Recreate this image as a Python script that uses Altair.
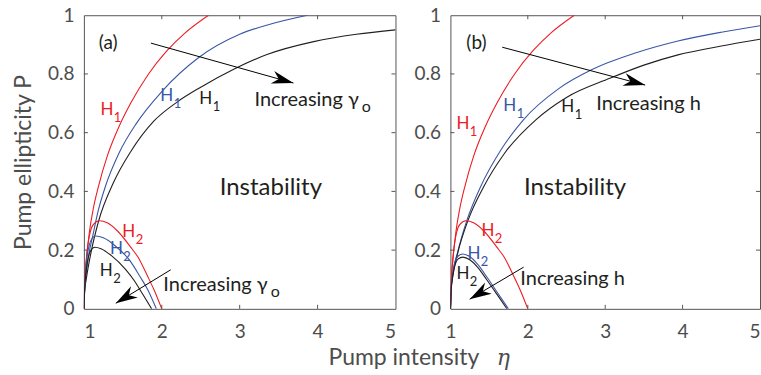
import math
import altair as alt
import pandas as pd

FONT = "Lato"
W1, W2, H = 312, 310, 294
RED, BLUE, BLACK, GREY = "#ed1c24", "#3a57a7", "#231f20", "#4d4d4d"

# ---------------- curve data ----------------
red_H1_eta = [1.0, 1.01, 1.03, 1.07, 1.12, 1.19, 1.3, 1.45, 1.6, 1.83, 2.07, 2.3, 2.6]
red_H1_P = [0.0, 0.09, 0.16, 0.26, 0.34, 0.42, 0.52, 0.62, 0.70, 0.80, 0.88, 0.94, 1.0]
red_H2_eta = [1.0, 1.01, 1.025, 1.05, 1.08, 1.12, 1.2, 1.3, 1.45, 1.6, 1.69, 1.82, 1.9, 2.0]
red_H2_P = [0.0, 0.085, 0.15, 0.215, 0.26, 0.287, 0.30, 0.293, 0.26, 0.21, 0.178, 0.11, 0.065, 0.0]

a_blue_H1_eta = [1.0, 1.01, 1.03, 1.06, 1.115, 1.18, 1.28, 1.45, 1.67, 2.0, 2.47, 3.0, 3.4, 3.87]
a_blue_H1_P = [0.0, 0.07, 0.12, 0.18, 0.25, 0.33, 0.42, 0.53, 0.63, 0.74, 0.855, 0.935, 0.97, 1.0]
a_black_H1_eta = [1.0, 1.01, 1.03, 1.09, 1.19, 1.38, 1.6, 1.9, 2.2, 2.5, 2.93, 3.35, 3.95, 4.5, 5.0]
a_black_H1_P = [0.0, 0.06, 0.1, 0.19, 0.3, 0.43, 0.535, 0.64, 0.705, 0.755, 0.817, 0.866, 0.91, 0.935, 0.95]
a_blue_H2_eta = [1.0, 1.01, 1.025, 1.045, 1.07, 1.1, 1.15, 1.25, 1.4, 1.6, 1.72, 1.82, 1.93]
a_blue_H2_P = [0.0, 0.075, 0.135, 0.185, 0.218, 0.238, 0.248, 0.242, 0.215, 0.161, 0.11, 0.065, 0.0]
a_black_H2_eta = [1.0, 1.01, 1.025, 1.045, 1.07, 1.1, 1.14, 1.22, 1.35, 1.54, 1.65, 1.75, 1.87]
a_black_H2_P = [0.0, 0.065, 0.12, 0.16, 0.188, 0.203, 0.21, 0.205, 0.182, 0.133, 0.095, 0.052, 0.0]

b_blue_H1_eta = [1.0, 1.01, 1.03, 1.09, 1.215, 1.39, 1.65, 1.94, 2.4, 2.83, 3.4, 3.94, 4.5, 5.0]
b_blue_H1_P = [0.0, 0.07, 0.12, 0.19, 0.303, 0.416, 0.54, 0.643, 0.75, 0.815, 0.872, 0.912, 0.942, 0.964]
b_black_H1_eta = [1.0, 1.01, 1.03, 1.09, 1.23, 1.43, 1.7, 2.1, 2.5, 3.06, 3.5, 3.94, 4.5, 5.0]
b_black_H1_P = [0.0, 0.065, 0.11, 0.185, 0.303, 0.416, 0.53, 0.643, 0.72, 0.785, 0.83, 0.865, 0.895, 0.918]
b_blue_H2_eta = [1.0, 1.01, 1.03, 1.06, 1.1, 1.16, 1.25, 1.35, 1.48, 1.6, 1.75]
b_blue_H2_P = [0.0, 0.07, 0.12, 0.16, 0.18, 0.187, 0.178, 0.152, 0.105, 0.058, 0.0]
b_black_H2_eta = [1.0, 1.01, 1.03, 1.06, 1.1, 1.16, 1.25, 1.35, 1.47, 1.6, 1.73]
b_black_H2_P = [0.0, 0.065, 0.11, 0.15, 0.17, 0.176, 0.167, 0.142, 0.099, 0.05, 0.0]

# ---------------- ticks ----------------
x_ticks = [1, 2, 3, 4, 5]
y_ticks = [0, 0.2, 0.4, 0.6, 0.8, 1.0]

# ---------------- annotations ----------------
# panel (a)
a_H_x = [1.295, 2.064, 2.564, 1.577, 1.417, 1.288]
a_H_y = [0.677, 0.724, 0.714, 0.26, 0.204, 0.129]
a_H_sub = ["1", "1", "1", "2", "2", "2"]
a_H_col = [RED, BLUE, BLACK, RED, BLUE, BLACK]
a_arrow_x = [1.86, 2.115]
a_arrow_y = [0.905, 0.133]
a_arrow_x2 = [3.69, 1.41]
a_arrow_y2 = [0.769, 0.019]
a_inc_x = [4.53, 3.36]      # right end of "Increasing γ"
a_inc_y = [0.71, 0.082]
a_label = ["(a)"]
a_label_x = [1.19]
a_label_y = [0.905]
a_inst = [3.40, 0.41]

# panel (b)
b_H_x = [1.161, 1.768, 2.516, 1.484, 1.303, 1.161]
b_H_y = [0.629, 0.692, 0.689, 0.265, 0.187, 0.119]
b_H_sub = ["1", "1", "1", "2", "2", "2"]
b_H_col = [RED, BLUE, BLACK, RED, BLUE, BLACK]
b_arrow_x = [1.67, 1.946]
b_arrow_y = [0.891, 0.142]
b_arrow_x2 = [3.516, 1.249]
b_arrow_y2 = [0.762, 0.033]
b_inc_x = [2.884, 1.903]     # left start of "Increasing h"
b_inc_y = [0.697, 0.10]
b_label = ["(b)"]
b_label_x = [1.206]
b_label_y = [0.905]
b_inst = [2.61, 0.41]

x_title = "Pump intensity"
x_title_pos = [4.14, -0.167]
eta_pos = [6.385, -0.167]
y_title = "Pump ellipticity P"

xs = alt.Scale(domain=[1, 5], nice=False, zero=False)
ys = alt.Scale(domain=[0, 1], nice=False, zero=False)


def curves_df(curves):
    rows = []
    for name, eta, P, col in curves:
        for i, (e, p) in enumerate(zip(eta, P)):
            rows.append({"x": e, "y": p, "curve": name, "col": col, "i": i})
    return pd.DataFrame(rows)


def panel(curves, H_x, H_y, H_sub, H_col, ax, ay, ax2, ay2, inc_x, inc_y, inc_right,
          label, label_x, label_y, inst, width, left):
    if left:
        xaxis = alt.Axis(values=x_ticks, format="~g", title=None, grid=False, domain=False,
                         ticks=False, tickSize=0, labelFont=FONT, labelFontSize=19,
                         labelColor=GREY, labelPadding=14)
        yaxis = alt.Axis(values=y_ticks, format="~g", title=y_title, grid=False, domain=False,
                         ticks=False, tickSize=0, labelFont=FONT, labelFontSize=19,
                         labelColor=GREY, labelPadding=10, titleFont=FONT, titleFontSize=23,
                         titleColor=GREY, titleFontWeight="normal", titlePadding=12)
    else:
        xaxis = alt.Axis(values=x_ticks, format="~g", title=None, grid=False, domain=False,
                         ticks=False, tickSize=0, labelFont=FONT, labelFontSize=19,
                         labelColor=GREY, labelPadding=14,
                         labelAlign={"condition": {"test": "datum.value == 5", "value": "right"},
                                     "value": "center"})
        yaxis = alt.Axis(values=y_ticks, format="~g", title=None, grid=False, domain=False,
                         ticks=False, tickSize=0, labelFont=FONT, labelFontSize=19,
                         labelColor=GREY, labelPadding=10)
    X = alt.X("x:Q", scale=xs, axis=xaxis)
    Y = alt.Y("y:Q", scale=ys, axis=yaxis)

    lines = alt.Chart(curves_df(curves)).mark_line(
        clip=True, strokeWidth=1.1, interpolate="monotone").encode(
        x=X, y=Y, color=alt.Color("col:N", scale=None), detail="curve:N", order="i:Q")

    # inward ticks on the frame
    tx = pd.DataFrame({"x": x_ticks[1:-1]})
    ty = pd.DataFrame({"y": y_ticks[1:-1]})
    tcol = "#555555"
    tb = alt.Chart(tx).mark_rule(color=tcol).encode(x=X, y=alt.value(H), y2=alt.value(H - 4))
    tt = alt.Chart(tx).mark_rule(color=tcol).encode(x=X, y=alt.value(0), y2=alt.value(4))
    tl = alt.Chart(ty).mark_rule(color=tcol).encode(y=Y, x=alt.value(0), x2=alt.value(4))
    tr = alt.Chart(ty).mark_rule(color=tcol).encode(y=Y, x=alt.value(width), x2=alt.value(width - 4))

    # arrows
    adf = pd.DataFrame({"x": ax, "y": ay, "x2": ax2, "y2": ay2})
    sx = width / 4.0
    adf["angle"] = [math.degrees(math.atan2(-(b2 - b1) * H, (a2 - a1) * sx)) % 360
                    for a1, b1, a2, b2 in zip(ax, ay, ax2, ay2)]
    shafts = alt.Chart(adf).mark_rule(color="black", strokeWidth=1).encode(
        x=X, y=Y, x2="x2:Q", y2="y2:Q")
    heads = alt.Chart(adf).mark_point(
        shape="M0,0L-1,-0.3L-0.7,0L-1,0.3Z", filled=True, fill="black", size=1900,
        opacity=1, strokeWidth=0).encode(
        x=alt.X("x2:Q", scale=xs, axis=xaxis), y=alt.Y("y2:Q", scale=ys, axis=yaxis),
        angle=alt.Angle("angle:Q", scale=None))

    # H labels
    hdf = pd.DataFrame({"x": H_x, "y": H_y, "sub": H_sub, "col": H_col, "t": ["H"] * len(H_x)})
    hmain = alt.Chart(hdf).mark_text(font=FONT, fontSize=17, align="center", baseline="middle").encode(
        x=X, y=Y, text="t:N", color=alt.Color("col:N", scale=None))
    hsub = alt.Chart(hdf).mark_text(font=FONT, fontSize=13, align="left", baseline="middle",
                                    dx=7, dy=8).encode(
        x=X, y=Y, text="sub:N", color=alt.Color("col:N", scale=None))

    layers = [lines, tb, tt, tl, tr, shafts, heads, hmain, hsub]

    # "Increasing ..." texts
    idf = pd.DataFrame({"x": inc_x, "y": inc_y})
    if inc_right:
        idf["t"] = "Increasing γ"
        idf["s"] = "o"
        layers.append(alt.Chart(idf).mark_text(font=FONT, fontSize=20, align="right",
                                               baseline="middle", color=BLACK).encode(
            x=X, y=Y, text="t:N"))
        layers.append(alt.Chart(idf).mark_text(font=FONT, fontSize=16, align="left",
                                               baseline="middle", color=BLACK, dx=3, dy=7).encode(
            x=X, y=Y, text="s:N"))
    else:
        idf["t"] = "Increasing h"
        layers.append(alt.Chart(idf).mark_text(font=FONT, fontSize=20, align="left",
                                               baseline="middle", color=BLACK).encode(
            x=X, y=Y, text="t:N"))

    ldf = pd.DataFrame({"x": label_x, "y": label_y, "t": label})
    layers.append(alt.Chart(ldf).mark_text(font=FONT, fontSize=19, align="left",
                                           baseline="middle", color=BLACK).encode(
        x=X, y=Y, text="t:N"))
    sdf = pd.DataFrame({"x": [inst[0]], "y": [inst[1]], "t": ["Instability"]})
    layers.append(alt.Chart(sdf).mark_text(font=FONT, fontSize=24, align="center",
                                           baseline="middle", color=BLACK).encode(
        x=X, y=Y, text="t:N"))

    if left:
        tdf = pd.DataFrame({"x": [x_title_pos[0]], "y": [x_title_pos[1]], "t": [x_title]})
        layers.append(alt.Chart(tdf).mark_text(font=FONT, fontSize=23, align="left",
                                               baseline="middle", color=GREY).encode(
            x=X, y=Y, text="t:N"))
        edf = pd.DataFrame({"x": [eta_pos[0]], "y": [eta_pos[1]], "t": ["η"]})
        layers.append(alt.Chart(edf).mark_text(font="DejaVu Serif", fontSize=22, fontStyle="italic",
                                               align="center", baseline="middle", color=GREY).encode(
            x=X, y=Y, text="t:N"))

    return alt.layer(*layers).properties(width=width, height=H)


left = panel(
    [("rH1", red_H1_eta, red_H1_P, RED), ("bH1", a_blue_H1_eta, a_blue_H1_P, BLUE),
     ("kH1", a_black_H1_eta, a_black_H1_P, BLACK), ("rH2", red_H2_eta, red_H2_P, RED),
     ("bH2", a_blue_H2_eta, a_blue_H2_P, BLUE), ("kH2", a_black_H2_eta, a_black_H2_P, BLACK)],
    a_H_x, a_H_y, a_H_sub, a_H_col, a_arrow_x, a_arrow_y, a_arrow_x2, a_arrow_y2,
    a_inc_x, a_inc_y, True, a_label, a_label_x, a_label_y, a_inst, W1, True)

right = panel(
    [("rH1", red_H1_eta, red_H1_P, RED), ("bH1", b_blue_H1_eta, b_blue_H1_P, BLUE),
     ("kH1", b_black_H1_eta, b_black_H1_P, BLACK), ("rH2", red_H2_eta, red_H2_P, RED),
     ("bH2", b_blue_H2_eta, b_blue_H2_P, BLUE), ("kH2", b_black_H2_eta, b_black_H2_P, BLACK)],
    b_H_x, b_H_y, b_H_sub, b_H_col, b_arrow_x, b_arrow_y, b_arrow_x2, b_arrow_y2,
    b_inc_x, b_inc_y, False, b_label, b_label_x, b_label_y, b_inst, W2, False)

chart = alt.hconcat(left, right, spacing=55, bounds="flush").properties(
    padding={"left": 11, "top": 5, "right": 0, "bottom": 0},
    background="white",
).configure_view(stroke="#555555", strokeWidth=1)

chart.save("out.html", embed_options={"renderer": "svg", "actions": False})
